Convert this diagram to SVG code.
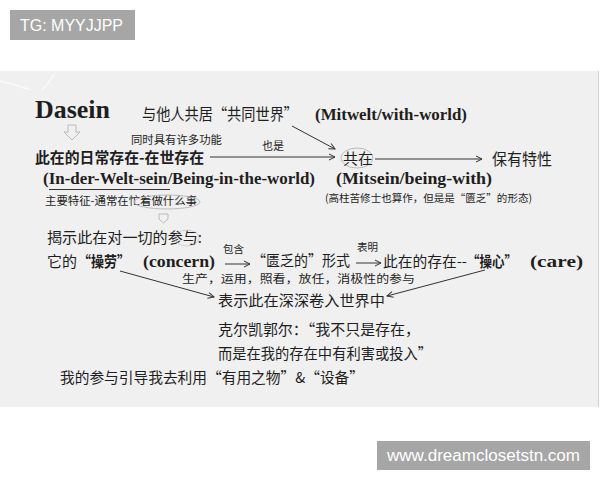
<svg xmlns="http://www.w3.org/2000/svg" width="600" height="480" viewBox="0 0 600 480">
<style>
.cn{font-family:"Noto Sans CJK SC","Noto Sans",sans-serif;fill:#1e1e1e}
.sf{font-family:"Liberation Serif","DejaVu Serif",serif;font-weight:bold;fill:#1e1e1e}
.ln{stroke:#333;stroke-width:1;fill:none}
.hl{stroke:#bbb;stroke-width:1;fill:none}
.tag{fill:#a6a6a6}
.tagt{font-family:"Liberation Sans",Arial,sans-serif;fill:#fff}
</style>
<defs>
<marker id="ah" markerWidth="8" markerHeight="8" refX="7" refY="4" orient="auto" markerUnits="userSpaceOnUse">
<path d="M1,1 L7,4 L1,7" fill="none" stroke="#333" stroke-width="1"/>
</marker>
</defs>
<rect width="600" height="480" fill="#fff"/>
<rect x="0" y="71" width="598" height="336" fill="#f0f0f0"/>
<line x1="598.5" y1="71" x2="598.5" y2="407" stroke="#d0d0d0"/>
<path d="M0,81 Q20,86 30,90 M55,73 Q50,82 42,90" stroke="#fafafa" stroke-width="1.5" fill="none"/>

<g id="tag-top"><rect class="tag" x="10" y="10" width="125" height="30"/><text class="tagt" x="20" y="31" font-size="16" textLength="103" lengthAdjust="spacingAndGlyphs">TG: MYYJJPP</text></g>
<g id="tag-bottom"><rect class="tag" x="377" y="441" width="213" height="29"/><text class="tagt" x="387" y="461" font-size="16" textLength="193" lengthAdjust="spacingAndGlyphs">www.dreamclosetstn.com</text></g>

<g id="dasein"><text class="sf" x="35" y="118" font-size="25" textLength="75" lengthAdjust="spacingAndGlyphs">Dasein</text></g>
<g id="mitwelt"><text class="cn" x="142" y="120" font-size="16" textLength="156" lengthAdjust="spacingAndGlyphs">与他人共居“共同世界”</text><text class="sf" x="315" y="120" font-size="16" font-weight="normal" textLength="152" lengthAdjust="spacingAndGlyphs">(Mitwelt/with-world)</text></g>
<g id="down-arrow1"><path class="hl" d="M68,125 L76,125 L76,132 L80,132 L72,140 L64,132 L68,132 Z"/></g>
<g id="functions"><text class="cn" x="131" y="144" font-size="11" textLength="91" lengthAdjust="spacingAndGlyphs">同时具有许多功能</text></g>
<g id="yeshi"><text class="cn" x="262" y="150" font-size="11">也是</text></g>
<g id="daily"><text class="cn" x="35" y="163" font-size="15" font-weight="bold" textLength="169" lengthAdjust="spacingAndGlyphs">此在的日常存在-在世存在</text><text class="sf" x="43" y="184" font-size="16" font-weight="normal" textLength="272" lengthAdjust="spacingAndGlyphs">(In-der-Welt-sein/Being-in-the-world)</text><line x1="49" y1="189.5" x2="170" y2="189.5" stroke="#333" stroke-width="1"/></g>
<g id="gongzai"><ellipse class="hl" cx="357" cy="158" rx="16" ry="10"/><text class="cn" x="343" y="164" font-size="15">共在</text><text class="sf" x="336" y="184" font-size="16" font-weight="normal" textLength="156" lengthAdjust="spacingAndGlyphs">(Mitsein/being-with)</text><text class="cn" x="325" y="202" font-size="10.5" textLength="207" lengthAdjust="spacingAndGlyphs">(高柱苦修士也算作，但是是“匮乏”的形态)</text></g>
<g id="baoyou"><text class="cn" x="492" y="165" font-size="16" textLength="60" lengthAdjust="spacingAndGlyphs">保有特性</text></g>
<g id="feature"><text class="cn" x="45" y="205" font-size="11.5" textLength="152" lengthAdjust="spacingAndGlyphs">主要特征-通常在忙着做什么事</text><ellipse class="hl" cx="167" cy="202" rx="33" ry="7"/></g>
<g id="down-arrow2"><path class="hl" d="M159,214 L168,214 L168,219 L163.5,223 L159,219 Z"/></g>
<g id="reveal"><text class="cn" x="47" y="243" font-size="15" textLength="155" lengthAdjust="spacingAndGlyphs">揭示此在对一切的参与:</text><ellipse class="hl" cx="187" cy="238" rx="12" ry="8" opacity="0.6"/></g>
<g id="concern"><text class="cn" x="47" y="267" font-size="15">它的</text><text class="cn" x="78" y="267" font-size="15" font-weight="bold" textLength="52" lengthAdjust="spacingAndGlyphs">“操劳”</text><text class="sf" x="143" y="267" font-size="16" textLength="72" lengthAdjust="spacingAndGlyphs">(concern)</text></g>
<g id="baohan"><text class="cn" x="223" y="253" font-size="10.5">包含</text></g>
<g id="kuifa"><text class="cn" x="252" y="266" font-size="15" textLength="98" lengthAdjust="spacingAndGlyphs">“匮乏的”形式</text></g>
<g id="biaoming"><text class="cn" x="357" y="251" font-size="10.5">表明</text></g>
<g id="care"><text class="cn" x="383" y="267" font-size="15" textLength="84" lengthAdjust="spacingAndGlyphs">此在的存在--</text><text class="cn" x="467" y="267" font-size="15" font-weight="bold" textLength="50" lengthAdjust="spacingAndGlyphs">“操心”</text><text class="sf" x="530" y="267" font-size="16" textLength="53" lengthAdjust="spacingAndGlyphs">(care)</text></g>
<g id="examples"><text class="cn" x="182" y="283" font-size="11" textLength="233" lengthAdjust="spacingAndGlyphs">生产，运用，照看，放任，消极性的参与</text></g>
<g id="involved"><text class="cn" x="218" y="306" font-size="15" textLength="167" lengthAdjust="spacingAndGlyphs">表示此在深深卷入世界中</text></g>
<g id="kierkegaard"><text class="cn" x="218" y="335" font-size="15" textLength="202" lengthAdjust="spacingAndGlyphs">克尔凯郭尔：“我不只是存在，</text><text class="cn" x="218" y="359" font-size="15" textLength="214" lengthAdjust="spacingAndGlyphs">而是在我的存在中有利害或投入”</text></g>
<g id="use"><text class="cn" x="60" y="383" font-size="15" textLength="304" lengthAdjust="spacingAndGlyphs">我的参与引导我去利用“有用之物”&amp;“设备”</text></g>

<g id="connectors" class="ln">
<line x1="210" y1="157" x2="335" y2="157" marker-end="url(#ah)"/>
<line x1="292" y1="126" x2="335" y2="149" marker-end="url(#ah)"/>
<line x1="375" y1="159" x2="482" y2="159" marker-end="url(#ah)"/>
<line x1="225" y1="264" x2="250" y2="264" marker-end="url(#ah)"/>
<line x1="356" y1="263" x2="381" y2="263" marker-end="url(#ah)"/>
<line x1="120" y1="271" x2="214" y2="297" marker-end="url(#ah)"/>
<line x1="485" y1="270" x2="387" y2="296" marker-end="url(#ah)"/>
</g>
</svg>
